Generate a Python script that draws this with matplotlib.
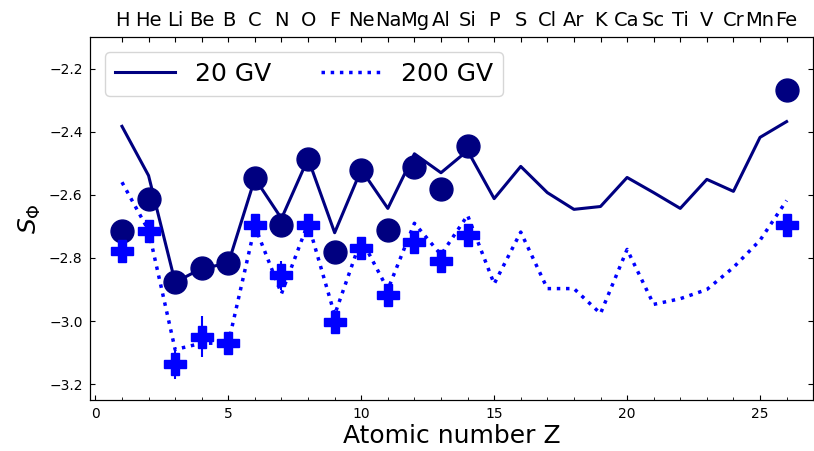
import numpy as np
import matplotlib
matplotlib.use("Agg")
import matplotlib.pyplot as plt
from matplotlib.ticker import MultipleLocator
from matplotlib import font_manager

# element labels on the top axis
elements = ["H", "He", "Li", "Be", "B", "C", "N", "O", "F", "Ne", "Na", "Mg", "Al",
            "Si", "P", "S", "Cl", "Ar", "K", "Ca", "Sc", "Ti", "V", "Cr", "Mn", "Fe"]
z_all = list(range(1, 27))

# model curves
s_20gv = [-2.383, -2.539, -2.877, -2.833, -2.817, -2.548, -2.675, -2.485, -2.720,
          -2.520, -2.643, -2.470, -2.530, -2.460, -2.612, -2.510, -2.593, -2.646,
          -2.637, -2.545, -2.593, -2.643, -2.551, -2.589, -2.418, -2.368]
s_200gv = [-2.560, -2.713, -3.090, -3.070, -3.070, -2.700, -2.913, -2.690, -2.980,
           -2.740, -2.900, -2.690, -2.790, -2.665, -2.882, -2.718, -2.897, -2.897,
           -2.976, -2.773, -2.947, -2.929, -2.900, -2.830, -2.744, -2.618]

# data points
z_data = [1, 2, 3, 4, 5, 6, 7, 8, 9, 10, 11, 12, 13, 14, 26]
d_20gv = [-2.715, -2.612, -2.877, -2.833, -2.817, -2.548, -2.697, -2.485, -2.780,
          -2.520, -2.710, -2.513, -2.580, -2.444, -2.267]
e_20gv = [0.015, 0.015, 0.015, 0.015, 0.015, 0.012, 0.012, 0.012, 0.015,
          0.012, 0.015, 0.012, 0.015, 0.012, 0.015]
d_200gv = [-2.778, -2.713, -3.137, -3.050, -3.070, -2.697, -2.855, -2.697, -3.003,
           -2.768, -2.918, -2.750, -2.810, -2.726, -2.694]
e_200gv = [0.02, 0.02, 0.045, 0.065, 0.03, 0.02, 0.045, 0.02, 0.03,
           0.02, 0.025, 0.02, 0.02, 0.02, 0.02]

# narrow font for the crowded element labels, if there is one
names = {f.name for f in font_manager.fontManager.ttflist}
top_family = "Liberation Sans Narrow" if "Liberation Sans Narrow" in names else "DejaVu Sans"

fig = plt.figure(figsize=(8.14, 4.51), dpi=100)
ax = fig.add_axes([0.110, 0.113, 0.889, 0.805])

ax.plot(z_all, s_20gv, color="navy", lw=2.2, label="20 GV", zorder=2)
ax.plot(z_all, s_200gv, color="blue", lw=2.5, ls=":", label="200 GV", zorder=2)
ax.errorbar(z_data, d_20gv, yerr=e_20gv, fmt="o", color="navy", ms=16.5,
            elinewidth=1.5, zorder=3)
ax.errorbar(z_data, d_200gv, yerr=e_200gv, fmt="P", color="blue", ms=16,
            elinewidth=1.5, zorder=3)

ax.set_xlim(-0.22, 27)
ax.set_ylim(-3.25, -2.1)
ax.xaxis.set_major_locator(MultipleLocator(5))
ax.xaxis.set_minor_locator(MultipleLocator(1))
ax.yaxis.set_major_locator(MultipleLocator(0.2))
ax.tick_params(which="both", direction="in", right=True, labelsize=10, pad=5)
ax.set_xlabel("Atomic number Z", fontsize=18, labelpad=2)
ax.set_ylabel(r"$S_{\Phi}$", fontsize=18)

leg = ax.legend(loc="upper left", ncol=2, fontsize=18, handlelength=2.4,
                borderaxespad=0.6)

ax2 = ax.twiny()
ax2.set_xlim(ax.get_xlim())
ax2.set_xticks(z_all)
ax2.set_xticklabels(elements, fontsize=14, family=top_family)
ax2.tick_params(direction="in", pad=5)

fig.savefig("out.png", dpi=100)
